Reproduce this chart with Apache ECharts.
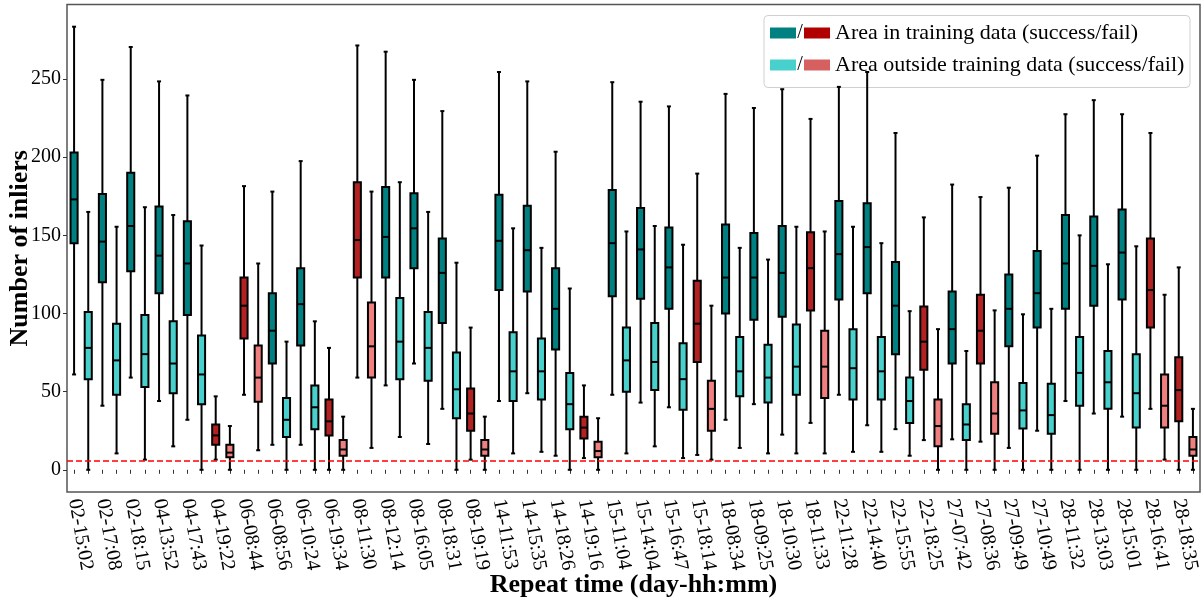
<!DOCTYPE html>
<html>
<head>
<meta charset="utf-8">
<script src="https://cdn.jsdelivr.net/npm/echarts@6/dist/echarts.min.js"></script>
<style>
  html, body { margin: 0; padding: 0; background: #fff; }
  #chart { width: 1201px; height: 600px; }
</style>
</head>
<body>
<div id="chart"></div>
<script>
// Repeat times (day-hh:mm), one pair of boxes per repeat
const repeatTimes = [
  '02-15:02', '02-17:08', '02-18:15', '04-13:52', '04-17:43', '04-19:22', '06-08:44', '06-08:56',
  '06-10:24', '06-19:34', '08-11:30', '08-12:14', '08-16:05', '08-18:31', '08-19:19', '14-11:53',
  '14-15:35', '14-18:26', '14-19:16', '15-11:04', '15-14:04', '15-16:47', '15-18:14', '18-08:34',
  '18-09:25', '18-10:30', '18-11:33', '22-11:28', '22-14:40', '22-15:55', '22-18:25', '27-07:42',
  '27-08:36', '27-09:49', '27-10:49', '28-11:32', '28-13:03', '28-15:01', '28-16:41', '28-18:35'
];

// 1 = localisation failed for that repeat
const failed = [
  0, 0, 0, 0, 0, 1, 1, 0, 0, 1, 1, 0, 0, 0, 1, 0, 0, 0, 1, 0,
  0, 0, 1, 0, 0, 0, 1, 0, 0, 0, 1, 0, 1, 0, 0, 0, 0, 0, 1, 1
];

// Inlier statistics [min, q1, median, q3, max], area covered by training data
const insideStats = [
  [61, 145, 173, 203, 283.5], [41, 120, 146, 176.5, 249.5], [59, 127, 156, 190, 270.5], [44, 113, 137, 168.5, 248.5],
  [32, 99, 132, 159, 239.5], [6.5, 16, 22, 29, 47], [48, 84, 105, 123, 181.5], [16, 68, 89, 113, 178],
  [16, 79.5, 106, 129, 197.5], [0, 22, 31, 45, 78], [59, 123, 147, 184, 271.5], [54, 123, 149, 181, 267.5],
  [68, 129, 154.5, 177, 249.5], [39, 94, 126, 148, 229.5], [6.5, 25, 36, 52, 91], [44, 115, 146.5, 176, 254.5],
  [49, 114, 140.5, 169, 248.5], [9, 77, 103, 129, 203.5], [7.5, 20, 27, 34, 54], [48, 111, 145, 179, 248],
  [43, 109.5, 141, 167.5, 235.5], [40, 103, 129.5, 155, 232.5], [9.5, 69, 93.5, 121, 189.5], [32, 100, 123, 157, 240.5],
  [42, 96, 123, 151.5, 231.5], [22.5, 98, 126, 156, 243.5], [30, 102, 129, 152, 224.5], [48, 109, 138, 172, 245],
  [28.5, 113, 142.5, 170.5, 254.5], [26, 74, 105, 133, 215.5], [19, 64, 82, 104.5, 161.5], [19.5, 68, 90, 114, 182.5],
  [18, 68, 89, 112, 174.5], [14, 79, 103, 125, 180.5], [25, 91, 113, 140, 201], [44, 103, 132, 163, 227.5],
  [36, 105, 130.5, 162, 236.5], [34, 109, 139, 166.5, 227.5], [39, 91, 115, 148, 215.5], [0, 31, 51, 72, 129.5]
];

// Inlier statistics [min, q1, median, q3, max], area outside training data
const outsideStats = [
  [0, 58, 78, 101, 165], [10.5, 48, 70, 93.5, 155.5], [6.5, 53, 74, 99, 168], [15, 49, 68, 95, 163],
  [0, 42, 61, 86, 143.5], [0, 8, 11, 16, 28], [12.5, 43.5, 59, 79.5, 132], [0, 21, 32, 46, 82],
  [0, 26, 40, 54, 95], [0, 9, 13, 19, 34], [14, 59, 79, 107, 178], [21, 58, 82, 110, 184],
  [16.5, 57, 78, 101, 165], [0, 33, 51.5, 75, 132.5], [0, 9, 13, 19, 34], [10.5, 44, 63, 88, 154.5],
  [11.5, 45, 63, 84, 142], [0, 26, 42, 62, 116], [0, 8, 12, 18, 33], [10.5, 50, 70, 91, 152.5],
  [15, 51, 69, 94, 156], [7.5, 38.5, 58, 81, 144], [6.5, 25, 39, 57, 105], [14, 47, 63, 85, 142],
  [10.5, 43, 59, 80, 134.5], [10.5, 48, 66, 93, 155.5], [10.5, 46, 66, 89, 152.5], [11.5, 45, 65, 90, 155.5],
  [11.5, 45, 63, 85, 145], [9, 30, 44, 59, 101.5], [0, 15, 28, 45, 90], [0, 19, 29, 42, 76],
  [0, 23, 36, 56, 102], [0, 26.5, 38, 55.5, 99.5], [0, 23, 35, 55, 103], [0, 41, 62, 85, 150],
  [0, 39, 56, 76, 131.5], [0, 27, 49, 74, 143], [6.5, 27, 41, 61, 112], [0, 9, 13, 21, 39]
];

const yTicks = [0, 50, 100, 150, 200, 250];
const minInliers = 6;

const FONT = "'Liberation Serif', 'DejaVu Serif', serif";
const COLORS = {
  insideOk: '#008080', insideFail: '#b22222',
  outsideOk: '#48d1cc', outsideFail: '#f08080'
};

// Two slots per repeat: training area first, then the outside area
const slots = [];
const boxData = [];
repeatTimes.forEach((t, i) => {
  slots.push(t, t + ' outside');
  boxData.push([2 * i].concat(insideStats[i], [failed[i], 1]));
  boxData.push([2 * i + 1].concat(outsideStats[i], [failed[i], 0]));
});

function renderBox(params, api) {
  const x = api.value(0);
  const fail = api.value(6);
  const inside = api.value(7);
  const band = api.size([1, 0])[0];
  const half = band * 0.25;
  const pMin = api.coord([x, api.value(1)]);
  const pQ1 = api.coord([x, api.value(2)]);
  const pMed = api.coord([x, api.value(3)]);
  const pQ3 = api.coord([x, api.value(4)]);
  const pMax = api.coord([x, api.value(5)]);
  const cx = pMed[0];
  const cap = 2;
  const fill = inside ? (fail ? COLORS.insideFail : COLORS.insideOk)
                      : (fail ? COLORS.outsideFail : COLORS.outsideOk);
  const line = { stroke: '#000', lineWidth: 2 };
  return {
    type: 'group',
    children: [
      { type: 'line', shape: { x1: cx, y1: pMin[1], x2: cx, y2: pQ1[1] }, style: line },
      { type: 'line', shape: { x1: cx, y1: pQ3[1], x2: cx, y2: pMax[1] }, style: line },
      { type: 'line', shape: { x1: cx - cap, y1: pMin[1], x2: cx + cap, y2: pMin[1] }, style: line },
      { type: 'line', shape: { x1: cx - cap, y1: pMax[1], x2: cx + cap, y2: pMax[1] }, style: line },
      { type: 'rect', shape: { x: cx - half, y: pQ3[1], width: 2 * half, height: pQ1[1] - pQ3[1] },
        style: { fill: fill, stroke: '#000', lineWidth: 2 } },
      { type: 'line', shape: { x1: cx - half, y1: pMed[1], x2: cx + half, y2: pMed[1] }, style: line }
    ]
  };
}

// Legend: paired success/fail swatches per area
function legendRow(y, okColor, failColor, text) {
  return [
    { type: 'rect', shape: { x: 770, y: y - 5.5, width: 26, height: 11 }, style: { fill: okColor } },
    { type: 'text', x: 800, y: y, style: { text: '/', font: '20px ' + FONT, fill: '#000', align: 'center', verticalAlign: 'middle' } },
    { type: 'rect', shape: { x: 804, y: y - 5.5, width: 26, height: 11 }, style: { fill: failColor } },
    { type: 'text', x: 835, y: y, style: { text: text, font: '22px ' + FONT, fill: '#000', align: 'left', verticalAlign: 'middle' } }
  ];
}

const chart = echarts.init(document.getElementById('chart'), null, { renderer: 'canvas' });
chart.setOption({
  animation: false,
  backgroundColor: '#fff',
  textStyle: { fontFamily: FONT, color: '#000' },
  grid: {
    left: 67, right: 1, top: 4.5, bottom: 108,
    outerBoundsMode: 'none',
    show: true, borderColor: '#555', borderWidth: 1.5, backgroundColor: 'transparent'
  },
  xAxis: {
    type: 'category',
    data: slots,
    boundaryGap: true,
    axisLine: { show: false },
    axisTick: { show: true, interval: 0, alignWithLabel: true, length: 4, lineStyle: { color: '#333', width: 1 } },
    axisLabel: {
      interval: 0, rotate: -80, margin: 7, fontSize: 20, fontFamily: FONT, color: '#000',
      formatter: (v, i) => (i % 2 === 0 ? v : '')
    },
    splitLine: { show: false },
    name: 'Repeat time (day-hh:mm)',
    nameLocation: 'middle',
    nameGap: 80,
    nameMoveOverlap: false,
    nameTextStyle: { fontSize: 26, fontWeight: 'bold', fontFamily: FONT, color: '#000' }
  },
  yAxis: {
    type: 'value',
    min: -14.2,
    max: 297.7,
    axisLine: { show: false },
    axisTick: { show: true, length: 4, customValues: yTicks, lineStyle: { color: '#333', width: 1 } },
    axisLabel: { fontSize: 20, fontFamily: FONT, color: '#000', margin: 6, customValues: yTicks },
    splitLine: { show: false },
    name: 'Number of inliers',
    nameLocation: 'middle',
    nameGap: 34,
    nameMoveOverlap: false,
    nameTextStyle: { fontSize: 26, fontWeight: 'bold', fontFamily: FONT, color: '#000' }
  },
  series: [{
    type: 'custom',
    renderItem: renderBox,
    encode: { x: 0, y: [1, 2, 3, 4, 5] },
    data: boxData,
    z: 2,
    markLine: {
      silent: true,
      symbol: ['none', 'none'],
      label: { show: false },
      lineStyle: { color: '#ff0000', type: [6, 3], width: 1.5 },
      data: [{ yAxis: minInliers }],
      z: 5
    }
  }],
  graphic: [{
    type: 'group',
    z: 100,
    children: [
      { type: 'rect', shape: { x: 764, y: 15.5, width: 426, height: 72, r: 4 },
        style: { fill: 'rgba(255,255,255,0.8)', stroke: '#d0d0d0', lineWidth: 1 } }
    ].concat(
      legendRow(33, COLORS.insideOk, '#b00000', 'Area in training data (success/fail)'),
      legendRow(65, COLORS.outsideOk, '#d66060', 'Area outside training data (success/fail)')
    )
  }]
});
</script>
</body>
</html>
